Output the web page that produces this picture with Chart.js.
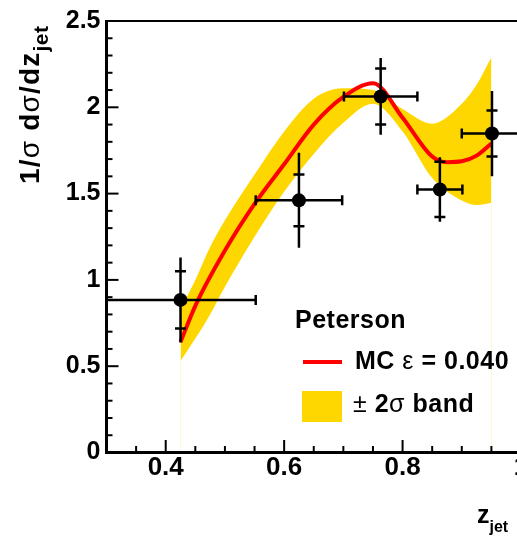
<!DOCTYPE html>
<html>
<head>
<meta charset="utf-8">
<script src="https://cdn.jsdelivr.net/npm/chart.js@4.4.1/dist/chart.umd.min.js"></script>
<style>
  html, body { margin: 0; padding: 0; background: #fff; overflow: hidden; }
  #wrap { position: relative; width: 517px; height: 543px; overflow: hidden; }
  #c { position: absolute; left: 0; top: 0; }
  .lbl { position: absolute; font-family: 'Liberation Sans', Arial, sans-serif; font-weight: bold;
         line-height: 1; white-space: nowrap; color: #000; }
  .leg { font-size: 25px; letter-spacing: 0.5px; }
  .sym { font-weight: normal; }
</style>
</head>
<body>
<div id="wrap">
  <canvas id="c" width="530" height="543" style="width:530px;height:543px"></canvas>

  <div class="lbl" style="left:16px;top:184px;font-size:28px;letter-spacing:1.2px;transform-origin:0 0;transform:rotate(-90deg)">1/<span class="sym">σ</span> d<span class="sym">σ</span>/dz<span style="font-size:21px;letter-spacing:0.5px;position:relative;top:9px">jet</span></div>
  <div class="lbl" style="left:477px;top:502px;font-size:25px">z<span style="font-size:16px;position:relative;top:9px">jet</span></div>

  <div class="lbl leg" style="left:295px;top:307px">Peterson</div>
  <div style="position:absolute;left:303px;top:360px;width:39px;height:4px;background:#ff0000"></div>
  <div class="lbl leg" style="left:355px;top:348px">MC <span class="sym">ε</span> = 0.040</div>
  <div style="position:absolute;left:302px;top:391px;width:40px;height:31px;background:#ffd700"></div>
  <div class="lbl leg" style="left:353px;top:391px"><span class="sym">±</span> 2<span class="sym">σ</span> band</div>
</div>

<script>
// measured points (z_jet), value, x half-width, stat and total y errors
const zData    = [0.425, 0.625, 0.763, 0.863, 0.951];
const yData    = [0.884, 1.461, 2.063, 1.524, 1.848];
const xErr     = [0.127, 0.073, 0.062, 0.038, 0.051];
const yErrStat = [0.166, 0.150, 0.162, 0.160, 0.133];
const yErrTot  = [0.246, 0.275, 0.222, 0.187, 0.247];

// MC Peterson curve, eps = 0.040
const zCurve  = [0.425, 0.45, 0.5, 0.55, 0.6, 0.65, 0.7, 0.75, 0.8, 0.85, 0.875, 0.9, 0.925, 0.95];
const mcCurve = [0.64, 0.85, 1.17, 1.44, 1.67, 1.90, 2.06, 2.14, 1.94, 1.715, 1.682, 1.687, 1.72, 1.79];

// +-2 sigma band
const zBand    = [0.425, 0.45, 0.475, 0.5, 0.55, 0.6, 0.65, 0.7, 0.75, 0.8, 0.85, 0.9, 0.925, 0.95];
const bandHigh = [0.83, 1.00, 1.19, 1.345, 1.61, 1.86, 2.05, 2.11, 2.10, 1.99, 1.905, 2.02, 2.13, 2.29];
const bandLow  = [0.53, 0.66, 0.80, 0.96, 1.25, 1.51, 1.73, 1.91, 2.02, 1.86, 1.59, 1.46, 1.434, 1.447];

const xTicks = [0.4, 0.6, 0.8, 1.0];
const yTicks = [0, 0.5, 1, 1.5, 2, 2.5];

const FONT = "'Liberation Sans', Arial, sans-serif";
const BAND = '#ffd700';

const pair = (xs, ys) => xs.map((x, i) => ({ x, y: ys[i] }));

// axis frame + inward ticks (major & minor), ROOT style
const framePlugin = {
  id: 'frame',
  afterDraw(chart) {
    const { ctx, chartArea: a, scales } = chart;
    const line = (x1, y1, x2, y2) => { ctx.beginPath(); ctx.moveTo(x1, y1); ctx.lineTo(x2, y2); ctx.stroke(); };
    ctx.save();
    ctx.strokeStyle = '#000';
    ctx.lineWidth = 2;
    line(a.left, a.top, a.right, a.top);
    line(a.right, a.top, a.right, a.bottom);
    ctx.lineWidth = 3;
    line(a.left, a.top - 1, a.left, a.bottom + 1.5);
    line(a.left - 1.5, a.bottom, a.right, a.bottom);

    ctx.lineWidth = 2;
    for (let k = 7; k <= 20; k++) {
      const v = k * 0.05;
      const major = xTicks.some(t => Math.abs(t - v) < 1e-6);
      const px = scales.x.getPixelForValue(v);
      line(px, a.bottom, px, a.bottom - (major ? 12.5 : 6.5));
    }
    for (let k = 1; k <= 24; k++) {
      const v = k * 0.1;
      const major = yTicks.some(t => Math.abs(t - v) < 1e-6);
      const py = scales.y.getPixelForValue(v);
      line(a.left, py, a.left + (major ? 12 : 6), py);
    }
    ctx.restore();
  }
};

// error bars: x half-width with end caps, total y error, stat ticks
const errorPlugin = {
  id: 'errors',
  afterDatasetsDraw(chart) {
    const { ctx, chartArea: a, scales: { x, y } } = chart;
    const line = (x1, y1, x2, y2) => { ctx.beginPath(); ctx.moveTo(x1, y1); ctx.lineTo(x2, y2); ctx.stroke(); };
    ctx.save();
    ctx.beginPath();
    ctx.rect(a.left, a.top, a.right - a.left, a.bottom - a.top);
    ctx.clip();
    ctx.strokeStyle = '#000';
    ctx.lineWidth = 2.5;
    zData.forEach((z, i) => {
      const cx = x.getPixelForValue(z);
      const cy = y.getPixelForValue(yData[i]);
      const xl = x.getPixelForValue(z - xErr[i]);
      const xr = x.getPixelForValue(z + xErr[i]);
      line(xl, cy, xr, cy);
      line(xl, cy - 5, xl, cy + 5);
      line(xr, cy - 5, xr, cy + 5);
      line(cx, y.getPixelForValue(yData[i] + yErrTot[i]), cx, y.getPixelForValue(yData[i] - yErrTot[i]));
      const ys1 = y.getPixelForValue(yData[i] + yErrStat[i]);
      const ys2 = y.getPixelForValue(yData[i] - yErrStat[i]);
      line(cx - 5.5, ys1, cx + 5.5, ys1);
      line(cx - 5.5, ys2, cx + 5.5, ys2);
    });
    ctx.restore();
  }
};

new Chart(document.getElementById('c'), {
  type: 'line',
  data: {
    datasets: [
      {
        label: 'data',
        data: pair(zData, yData),
        showLine: false,
        pointRadius: 7,
        pointBackgroundColor: '#000',
        pointBorderWidth: 0,
        order: 0,
      },
      {
        label: 'MC ε = 0.040',
        data: pair(zCurve, mcCurve),
        borderColor: '#ff0000',
        borderWidth: 4,
        pointRadius: 0,
        cubicInterpolationMode: 'monotone',
        fill: false,
        order: 1,
      },
      {
        label: 'band high',
        data: pair(zBand, bandHigh),
        borderColor: 'rgba(0,0,0,0)',
        borderWidth: 0,
        pointRadius: 0,
        backgroundColor: BAND,
        fill: '+1',
        cubicInterpolationMode: 'monotone',
        order: 2,
      },
      {
        label: 'band low',
        data: pair(zBand, bandLow),
        borderColor: 'rgba(0,0,0,0)',
        borderWidth: 0,
        pointRadius: 0,
        fill: false,
        cubicInterpolationMode: 'monotone',
        order: 3,
      },
      {
        // faint fill edges of the band down to the axis
        label: 'band edge left',
        data: [{ x: zBand[0], y: 0 }, { x: zBand[0], y: bandLow[0] }],
        borderColor: 'rgba(255,215,0,0.18)',
        borderWidth: 1,
        pointRadius: 0,
        fill: false,
        order: 4,
      },
      {
        label: 'band edge right',
        data: [{ x: zBand[zBand.length - 1], y: 0 }, { x: zBand[zBand.length - 1], y: bandLow[bandLow.length - 1] }],
        borderColor: 'rgba(255,215,0,0.18)',
        borderWidth: 1,
        pointRadius: 0,
        fill: false,
        order: 4,
      },
    ],
  },
  options: {
    responsive: false,
    animation: false,
    devicePixelRatio: 1,
    layout: { padding: { top: 19.5, right: 9, left: 0, bottom: 0 } },
    plugins: { legend: { display: false }, tooltip: { enabled: false } },
    scales: {
      x: {
        type: 'linear',
        min: 0.3,
        max: 1.0,
        grid: { display: false, drawTicks: false },
        border: { display: false },
        afterBuildTicks: ax => { ax.ticks = xTicks.map(v => ({ value: v })); },
        afterFit: ax => { ax.height = 90.5; },
        ticks: {
          autoSkip: false,
          maxRotation: 0,
          padding: 0,
          color: '#000',
          font: { family: FONT, size: 26, weight: 'bold' },
          callback: v => String(v),
        },
      },
      y: {
        type: 'linear',
        min: 0,
        max: 2.5,
        grid: { display: false, drawTicks: false },
        border: { display: false },
        afterBuildTicks: ax => { ax.ticks = yTicks.map(v => ({ value: v })); },
        afterFit: ax => { ax.width = 106.5; },
        ticks: {
          padding: 6,
          color: '#000',
          font: { family: FONT, size: 25, weight: 'bold' },
          callback: v => String(v),
        },
      },
    },
  },
  plugins: [framePlugin, errorPlugin],
});
</script>
</body>
</html>
